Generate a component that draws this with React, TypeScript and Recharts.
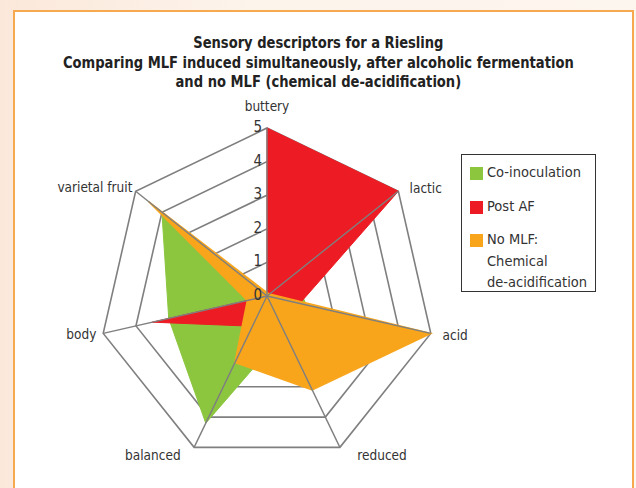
import React from 'react';
import {
  RadarChart, Radar, PolarGrid, PolarAngleAxis, PolarRadiusAxis, Legend
} from 'recharts';

const descriptors = ['buttery', 'lactic', 'acid', 'reduced', 'balanced', 'body', 'varietal fruit'];
const coInoculation = [0, 1.0, 1.2, 1.2, 4.2, 3.0, 4.0];
const postAF = [5, 5, 1.0, 1.0, 1.0, 3.5, 0];
const noMLF = [0.1, 0.1, 5, 3.1, 2.2, 0.6, 4.5];
const radiusTicks = [0, 1, 2, 3, 4, 5];

const seriesNames = ['Co-inoculation', 'Post AF', 'No MLF:\nChemical\nde-acidification'];
const colors = ['#8cc63f', '#ed1c24', '#f8a51c'];

const data = descriptors.map((name, i) => ({
  name,
  co: coInoculation[i],
  post: postAF[i],
  none: noMLF[i],
}));

const FONT = '"DejaVu Sans Condensed", "Liberation Sans", Arial, sans-serif';
const GRID = '#7f7f7f';
const CX = 267;
const CY = 296;
const R = 168;

// nudges so labels sit where the original put them
const labelShift: Record<string, [number, number]> = {
  buttery: [0, -14],
  lactic: [5, 2],
  acid: [4, 0],
  reduced: [14, 0],
  balanced: [-10, 0],
  body: [1, -1],
  'varietal fruit': [3, 1],
};

const AngleTick = (props: any) => {
  const { x, y, payload, textAnchor } = props;
  const cx = typeof props.cx === 'number' ? props.cx : CX;
  const cy = typeof props.cy === 'number' ? props.cy : CY;
  const [dx, dy] = labelShift[payload.value] || [0, 0];
  // spoke from the centre out to the outer ring (drawn with the axis so it sits over the fills)
  const dist = Math.hypot(x - cx, y - cy) || 1;
  const ex = cx + ((x - cx) * R) / dist;
  const ey = cy + ((y - cy) * R) / dist;
  return (
    <g>
      <line x1={cx} y1={cy} x2={ex} y2={ey} stroke={GRID} strokeWidth={1.4} />
      <text x={x + dx} y={y + dy} textAnchor={textAnchor} dominantBaseline="central"
        fontFamily={FONT} fontSize={13.5} fill="#333">
        {payload.value}
      </text>
    </g>
  );
};

const RadiusTick = (props: any) => {
  const { x, y, payload } = props;
  return (
    <text x={x - 5} y={y - 1} textAnchor="end" dominantBaseline="central"
      fontFamily={FONT} fontSize={15} fill="#333">
      {payload.value}
    </text>
  );
};

const LegendBox = () => (
  <div style={{
    border: '1.5px solid #333', background: '#fff', width: 133, height: 136,
    fontFamily: FONT, fontSize: 14.5, color: '#333', boxSizing: 'content-box',
  }}>
    {seriesNames.map((s, i) => (
      <div key={s} style={{ display: 'flex', alignItems: 'flex-start', marginLeft: 8, marginTop: i === 0 ? 9 : 14 }}>
        <div style={{ width: 13, height: 13, background: colors[i], marginTop: 3, marginRight: 4, flexShrink: 0 }} />
        <div style={{ whiteSpace: 'pre', lineHeight: '21.5px', marginTop: -2 }}>{s}</div>
      </div>
    ))}
  </div>
);

export default function App() {
  return (
    <div style={{ position: 'absolute', left: 0, top: 0, width: 636, height: 488, overflow: 'hidden',
      background: 'linear-gradient(90deg, #fbe8da 0%, #fdf4ec 40%, #fdf6ee 100%)' }}>
      <div style={{ position: 'absolute', left: 13, top: 10, width: 617, height: 490,
        border: '2px solid #f6a94e', background: '#fff' }} />
      <div style={{ position: 'absolute', left: 0, top: 33, width: 636, textAlign: 'center',
        fontFamily: FONT, fontWeight: 'bold', fontSize: 16, lineHeight: '19.5px', color: '#222',
        transform: 'scaleX(0.91)', transformOrigin: '322px 0' }}>
        <div>Sensory descriptors for a Riesling</div>
        <div>Comparing MLF induced simultaneously, after alcoholic fermentation</div>
        <div>and no MLF (chemical de-acidification)</div>
      </div>
      <div style={{ position: 'absolute', left: 0, top: 0 }}>
        <RadarChart width={636} height={488} data={data} cx={CX} cy={CY} outerRadius={R}
          margin={{ top: 0, right: 0, bottom: 0, left: 0 }}>
          <PolarGrid gridType="polygon" radialLines={false} stroke={GRID} strokeWidth={1.6} />
          <Radar name={seriesNames[0]} dataKey="co" stroke={colors[0]} fill={colors[0]} fillOpacity={1}
            strokeWidth={1} dot={false} isAnimationActive={false} />
          <Radar name={seriesNames[1]} dataKey="post" stroke={colors[1]} fill={colors[1]} fillOpacity={1}
            strokeWidth={1} dot={false} isAnimationActive={false} />
          <Radar name={seriesNames[2]} dataKey="none" stroke={colors[2]} fill={colors[2]} fillOpacity={1}
            strokeWidth={1.5} dot={false} isAnimationActive={false} />
          <PolarAngleAxis dataKey="name" tick={<AngleTick />} tickLine={false} axisLine={false} />
          <PolarRadiusAxis angle={90} domain={[0, 5]} ticks={radiusTicks as any} tickCount={6}
            axisLine={false} tickLine={false} tick={<RadiusTick />} />
          <Legend content={<LegendBox />} wrapperStyle={{ position: 'absolute', left: 461, top: 154, width: 'auto' }} />
        </RadarChart>
      </div>
    </div>
  );
}
